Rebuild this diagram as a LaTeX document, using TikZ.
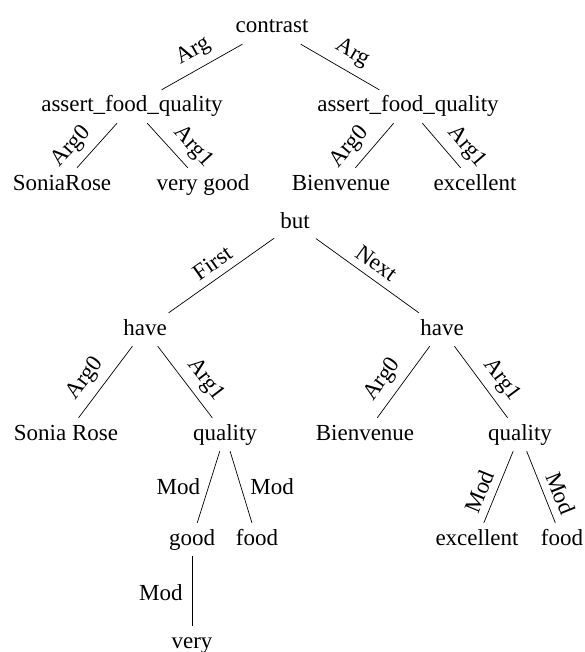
\documentclass[tikz,border=0pt]{standalone}
\usepackage{fontspec}
\setmainfont{Liberation Serif}

\begin{document}
\begin{tikzpicture}[x=1pt, y=-1pt,
  tnode/.style={inner sep=6pt, text height=16pt, text depth=5pt,
                font=\fontsize{23}{27}\selectfont},
  elbl/.style={font=\fontsize{23}{27}\selectfont, inner sep=3pt},
  slbl/.style={elbl, sloped, above=4.5pt},
  link/.style={draw, line width=0.7pt}
]
  \useasboundingbox (0,0) rectangle (585,652);

  % first graph
  \node[tnode] (contrast)  at (272,27.5)  {contrast};
  \node[tnode] (afqA)      at (132,106.5) {assert\_food\_quality};
  \node[tnode] (afqB)      at (408,106.5) {assert\_food\_quality};
  \node[tnode] (soniarose) at (62,184.5)  {SoniaRose};
  \node[tnode] (verygood)  at (203,184.5) {very good};
  \node[tnode] (bienA)     at (341,184.5) {Bienvenue};
  \node[tnode] (excA)      at (475,184.5) {excellent};

  \draw[link] (contrast) -- (afqA) node[pos=0.5, slbl] {Arg};
  \draw[link] (contrast) -- (afqB) node[pos=0.54, slbl] {Arg};
  \draw[link] (afqA) -- (soniarose) node[pos=0.8, slbl] {Arg0};
  \draw[link] (afqA) -- (verygood)  node[pos=0.8, slbl] {Arg1};
  \draw[link] (afqB) -- (bienA)     node[pos=0.8, slbl] {Arg0};
  \draw[link] (afqB) -- (excA)      node[pos=0.8, slbl] {Arg1};

  % second graph
  \node[tnode] (but)      at (295,223.5) {but};
  \node[tnode] (haveA)    at (145,329.5) {have};
  \node[tnode] (haveB)    at (442,329.5) {have};
  \node[tnode] (sonia)    at (66,434.5)  {Sonia Rose};
  \node[tnode] (qualA)    at (225,434.5) {quality};
  \node[tnode] (bienB)    at (365,434.5) {Bienvenue};
  \node[tnode] (qualB)    at (520,434.5) {quality};
  \node[tnode] (good)     at (192,539.5) {good};
  \node[tnode] (foodA)    at (257,539.5) {food};
  \node[tnode] (excB)     at (477,539.5) {excellent};
  \node[tnode] (foodB)    at (562,539.5) {food};
  \node[tnode] (very)     at (192,642.5) {very};

  \draw[link] (but) -- (haveA) node[pos=0.5, slbl] {First};
  \draw[link] (but) -- (haveB) node[pos=0.5, slbl] {Next};
  \draw[link] (haveA) -- (sonia) node[pos=0.61, slbl] {Arg0};
  \draw[link] (haveA) -- (qualA) node[pos=0.62, slbl] {Arg1};
  \draw[link] (haveB) -- (bienB) node[pos=0.62, slbl] {Arg0};
  \draw[link] (haveB) -- (qualB) node[pos=0.62, slbl] {Arg1};
  \draw[link] (qualA) -- (good)  node[midway, left=5pt, elbl] {Mod};
  \draw[link] (qualA) -- (foodA) node[midway, right=6pt, elbl] {Mod};
  \draw[link] (qualB) -- (excB)  node[pos=0.65, slbl] {Mod};
  \draw[link] (qualB) -- (foodB) node[pos=0.67, slbl] {Mod};
  \draw[link] (good) -- (very)   node[pos=0.53, left=6pt, elbl] {Mod};
\end{tikzpicture}
\end{document}
